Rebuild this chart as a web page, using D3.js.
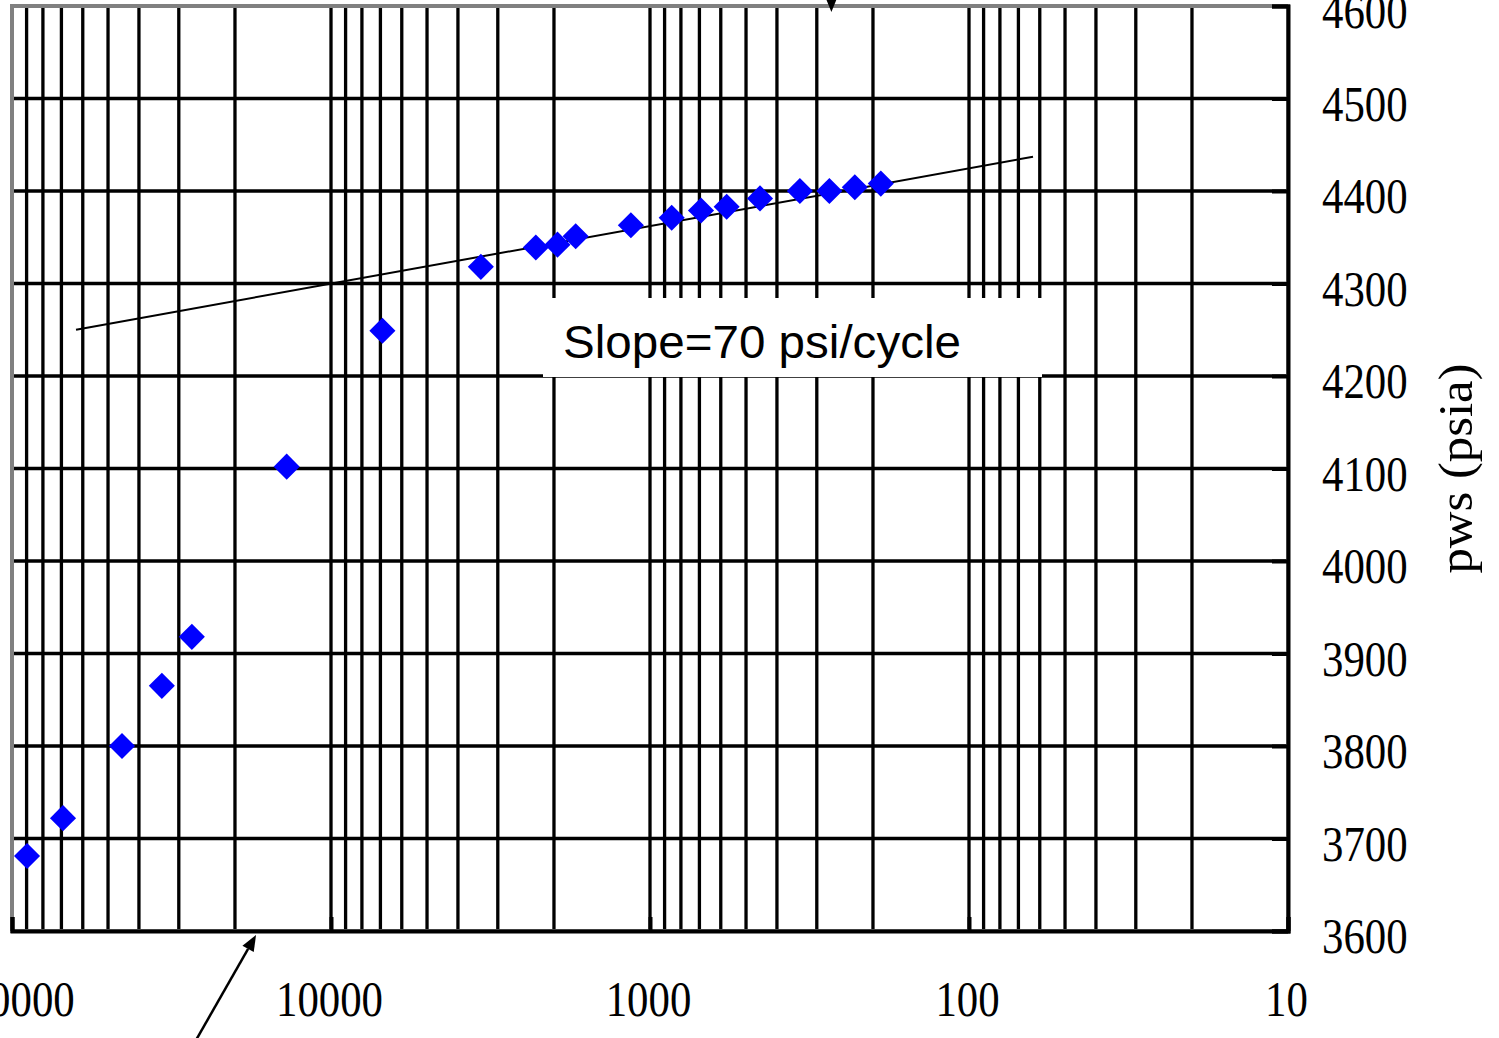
<!DOCTYPE html>
<html>
<head>
<meta charset="utf-8">
<script src="https://cdn.jsdelivr.net/npm/d3@7"></script>
<style>
  html, body { margin: 0; padding: 0; background: #fff; }
  svg { display: block; }
</style>
</head>
<body>
<svg id="chart" width="1499" height="1038"></svg>
<script>
// ---- data ----
const timeRatio = [89700, 69200, 45200, 33900, 27300, 13770, 6900, 3390, 2280, 1950, 1710, 1148, 855, 692, 575, 452, 339, 274, 228, 189];
const pws       = [3681, 3722, 3800, 3865, 3918, 4102, 4249, 4318, 4339, 4342, 4351, 4363, 4371, 4379, 4383, 4392, 4400, 4400, 4404, 4408];
const fitX = [63000, 63];
const fitY = [4250, 4437];
const xTickValues = [100000, 10000, 1000, 100, 10];
const yTickValues = [3600, 3700, 3800, 3900, 4000, 4100, 4200, 4300, 4400, 4500, 4600];
const yGridValues = [3700, 3800, 3900, 4000, 4100, 4200, 4300, 4400, 4500];
const yTitle = "pws (psia)";
const slopeLabel = "Slope=70 psi/cycle";
// annotation arrows in data units [tailX, tailY, tipX, tipY]
const arrowTop = [270, 4650, 270, 4593.5];
const arrowBottom = [26500, 3482, 17180, 3595.7];

// ---- layout ----
const L = 12, R = 1288, T = 6, B = 931;
const svg = d3.select("#chart");
const x = d3.scaleLog().domain([100000, 10]).range([L, R]);
const y = d3.scaleLinear().domain([3600, 4600]).range([B, T]);

// minor/major vertical grid values
const xGrid = [];
for (let e = 1; e <= 4; e++) for (let k = 1; k <= 9; k++) xGrid.push(k * Math.pow(10, e));
xGrid.push(100000);

const grid = svg.append("g");
grid.selectAll("line.v").data(xGrid).join("line")
  .attr("x1", d => x(d)).attr("x2", d => x(d))
  .attr("y1", T).attr("y2", B)
  .attr("stroke", "#000").attr("stroke-width", 3.3);
grid.selectAll("line.h").data(yGridValues).join("line")
  .attr("x1", L).attr("x2", R)
  .attr("y1", d => y(d)).attr("y2", d => y(d))
  .attr("stroke", "#000").attr("stroke-width", 3.3);

// plot area border (gray)
svg.append("rect").attr("x", L).attr("y", T).attr("width", R - L).attr("height", B - T)
  .attr("fill", "none").attr("stroke", "#808080").attr("stroke-width", 4);

const serif = "'Liberation Serif', 'Times New Roman', serif";
const digitW = 21.4;

// right y axis
const yAxis = d3.axisRight(y).tickValues(yTickValues).tickSize(-16).tickPadding(34).tickFormat(d3.format("d"));
const gy = svg.append("g").attr("transform", `translate(${R},0)`).call(yAxis);
gy.select(".domain").attr("stroke", "#000").attr("stroke-width", 4);
gy.selectAll(".tick line").attr("stroke", "#000").attr("stroke-width", 4);
gy.selectAll(".tick text")
  .attr("font-family", serif).attr("font-size", 50).attr("fill", "#000")
  .attr("dy", null).attr("y", 21.5)
  .attr("textLength", d => String(d).length * digitW)
  .attr("lengthAdjust", "spacingAndGlyphs");

// bottom x axis
const xAxis = d3.axisBottom(x).tickValues(xTickValues).tickSize(-14).tickFormat(d3.format("d"));
const gx = svg.append("g").attr("transform", `translate(0,${B})`).call(xAxis);
gx.select(".domain").attr("stroke", "#000").attr("stroke-width", 4);
gx.selectAll(".tick line").attr("stroke", "#000").attr("stroke-width", 4);
gx.selectAll(".tick text")
  .attr("font-family", serif).attr("font-size", 50).attr("fill", "#000")
  .attr("dy", null).attr("y", 85).attr("dx", -2)
  .attr("textLength", d => String(d).length * digitW)
  .attr("lengthAdjust", "spacingAndGlyphs");

// y axis title
svg.append("text")
  .attr("transform", `translate(1472,${(T + B) / 2}) rotate(-90)`)
  .attr("text-anchor", "middle")
  .attr("font-family", serif).attr("font-size", 49).attr("fill", "#000")
  .attr("textLength", 210).attr("lengthAdjust", "spacingAndGlyphs")
  .text(yTitle);

// slope label box
svg.append("rect").attr("x", 543).attr("y", 298).attr("width", 499).attr("height", 79).attr("fill", "#fff");
svg.append("text")
  .attr("x", 563).attr("y", 358)
  .attr("font-family", "'Liberation Sans', Arial, sans-serif").attr("font-size", 47).attr("fill", "#000")
  .attr("textLength", 398).attr("lengthAdjust", "spacingAndGlyphs")
  .text(slopeLabel);

// fitted straight line
svg.append("line")
  .attr("x1", x(fitX[0])).attr("y1", y(fitY[0]))
  .attr("x2", x(fitX[1])).attr("y2", y(fitY[1]))
  .attr("stroke", "#000").attr("stroke-width", 2);

// data points (diamonds)
const pts = timeRatio.map((t, i) => ({ t, p: pws[i] }));
svg.append("g").selectAll("path").data(pts).join("path")
  .attr("transform", d => `translate(${x(d.t)},${y(d.p)}) rotate(45)`)
  .attr("d", d3.symbol().type(d3.symbolSquare).size(340))
  .attr("fill", "#0000ff");

// arrows
function arrow(a) {
  const x1 = x(a[0]), y1 = y(a[1]), x2 = x(a[2]), y2 = y(a[3]);
  const ang = Math.atan2(y2 - y1, x2 - x1);
  const len = 16, half = 6.5;
  const bx = x2 - len * Math.cos(ang), by = y2 - len * Math.sin(ang);
  svg.append("line").attr("x1", x1).attr("y1", y1).attr("x2", bx).attr("y2", by)
    .attr("stroke", "#000").attr("stroke-width", 2.5);
  const px = -Math.sin(ang) * half, py = Math.cos(ang) * half;
  svg.append("path")
    .attr("d", `M${x2},${y2}L${bx + px},${by + py}L${bx - px},${by - py}Z`)
    .attr("fill", "#000");
}
arrow(arrowTop);
arrow(arrowBottom);
</script>
</body>
</html>
